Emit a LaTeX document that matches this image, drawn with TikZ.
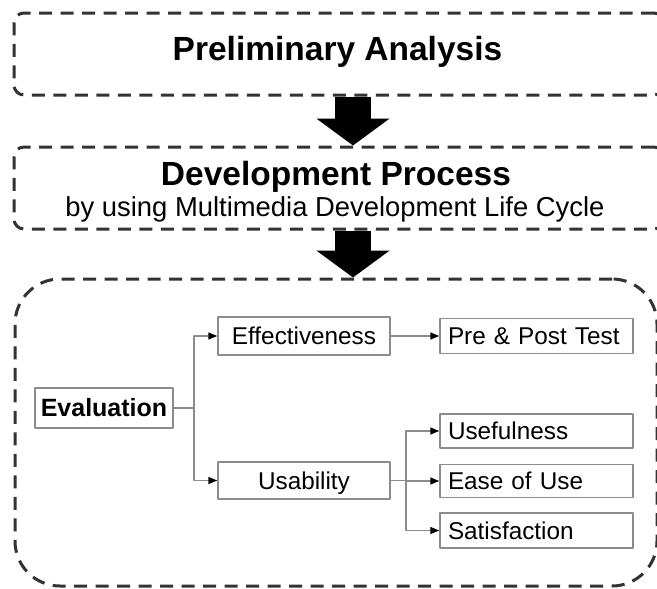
\documentclass[tikz,border=0pt]{standalone}
\usepackage{fontspec}
\setmainfont{Liberation Sans}
\usetikzlibrary{arrows.meta}

\begin{document}
\begin{tikzpicture}[line join=round,x=1pt,y=-1pt,
  phasebox/.style={draw=black!80,line width=3pt,dash pattern=on 13pt off 8.5pt,rounded corners=10pt,inner sep=0pt},
  bigarrow/.style={line width=36pt,-{Triangle[length=27pt 0 0,width=72pt 0 0]}},
  headtext/.style={anchor=base,inner sep=0pt,font=\fontsize{33.5}{40}\selectfont\bfseries},
  subtext/.style={anchor=base,inner sep=0pt,font=\fontsize{27.4}{33}\selectfont},
  critbox/.style={draw=black!45,line width=1.5pt,inner sep=0pt,text height=17.5pt,text depth=0pt,font=\fontsize{24.3}{29}\selectfont},
  subbox/.style={critbox,inner xsep=8pt,text width=177pt,align=left},
  link/.style={draw=black!45,line width=1.5pt,-{Triangle[length=9pt,width=7pt,color=black]}}]
\clip(0,0) rectangle (657,589);
\node[phasebox,minimum width=650pt,minimum height=82pt] (pabox) at (339,54) {};
\node[phasebox,minimum width=650pt,minimum height=82pt] (dpbox) at (339,188) {};
\node[phasebox,rounded corners=45pt,minimum width=642pt,minimum height=307pt] (evbox) at (336,432.5) {};
\draw[bigarrow] ([xshift=14pt]pabox.south) -- ([xshift=14pt]dpbox.north);
\draw[bigarrow] ([xshift=14pt]dpbox.south) -- ([xshift=17pt]evbox.north);
\node[headtext] (pa) at (337.5,60) {Preliminary Analysis};
\node[headtext] (dp) at (336,185) {Development Process};
\node[subtext] (dps) at (335,216) {by using Multimedia Development Life Cycle};
\node[critbox,minimum width=138pt,minimum height=40pt,font=\fontsize{25}{30}\selectfont\bfseries] (ev) at (104,408) {Evaluation};
\node[critbox,minimum width=172pt,minimum height=38pt] (ef) at (304,336) {Effectiveness};
\node[critbox,minimum width=172pt,minimum height=37pt] (us) at (304,480.5) {Usability};
\node[subbox,minimum height=35pt] (pp) at (536.5,336) {Pre \& Post Test};
\node[subbox,minimum height=34pt] (uf) at (536.5,431) {Usefulness};
\node[subbox,minimum height=33pt] (eu) at (536.5,481) {Ease of Use};
\node[subbox,minimum height=35pt] (sa) at (536.5,530.5) {Satisfaction};
\draw[link] (ev.east) -- ++(20,0) |- (ef.west);
\draw[link] (ev.east) -- ++(20,0) |- (us.west);
\draw[link] (ef.east) -- (pp.west);
\draw[link] (us.east) -- ++(15,0) |- (uf.west);
\draw[link] (us.east) -- ++(15,0) |- (eu.west);
\draw[link] (us.east) -- ++(15,0) |- (sa.west);
\end{tikzpicture}
\end{document}
